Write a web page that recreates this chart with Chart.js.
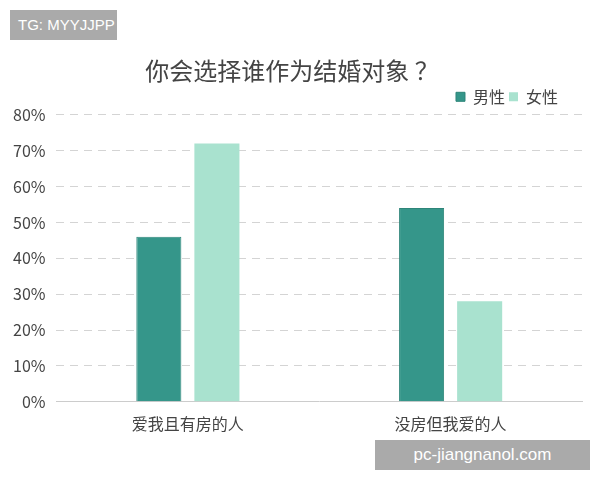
<!DOCTYPE html>
<html>
<head>
<meta charset="utf-8">
<script src="https://cdn.jsdelivr.net/npm/chart.js@4"></script>
<style>
  body { margin: 0; background: #fff; }
  #wrap { position: relative; width: 600px; height: 480px; }
  .badge { position: absolute; background: #aaaaaa; color: #fff; font-family: "Liberation Sans", "Noto Sans", sans-serif; }
  #tg { left: 10px; top: 10px; width: 107px; height: 30px; line-height: 30px; font-size: 15px; padding-left: 8px; box-sizing: border-box; }
  #site { left: 375px; top: 440px; width: 215px; height: 30px; line-height: 30px; font-size: 17px; text-align: center; }
</style>
</head>
<body>
<div id="wrap">
  <canvas id="chart"></canvas>
  <div class="badge" id="tg">TG: MYYJJPP</div>
  <div class="badge" id="site">pc-jiangnanol.com</div>
</div>
<script>
const categories = ['爱我且有房的人', '没房但我爱的人'];
const maleValues = [46, 54];
const femaleValues = [72, 28];
const seriesNames = ['男性', '女性'];
const yMax = 80;

const font = '"Noto Sans CJK SC", "Noto Sans", sans-serif';

// pull the legend in from the right edge a bit, like the original
const legendShift = {
    id: 'legendShift',
    afterLayout(chart) {
        if (chart.legend) chart.legend.right -= 20;
    }
};

new Chart(document.getElementById('chart'), {
    type: 'bar',
    data: {
        labels: categories,
        datasets: [{
            label: seriesNames[0],
            data: maleValues,
            backgroundColor: '#35968a',
            borderColor: '#2e8579',
            borderWidth: 1,
            barPercentage: 0.776,
            categoryPercentage: 0.442
        }, {
            label: seriesNames[1],
            data: femaleValues,
            backgroundColor: '#a9e2cf',
            borderWidth: 0,
            barPercentage: 0.776,
            categoryPercentage: 0.442
        }]
    },
    options: {
        responsive: true,
        maintainAspectRatio: false,
        animation: false,
        layout: { padding: { top: 56, left: 2, right: 18, bottom: 41 } },
        plugins: {
            title: {
                display: true,
                text: '你会选择谁作为结婚对象 ？',
                color: '#444',
                font: { family: font, size: 24, weight: 'normal' },
                padding: { top: 0, bottom: 0 }
            },
            legend: {
                display: true,
                align: 'end',
                labels: {
                    color: '#444',
                    font: { family: font, size: 16 },
                    boxWidth: 9,
                    boxHeight: 9,
                    padding: 4
                }
            },
            tooltip: { enabled: false }
        },
        scales: {
            x: {
                grid: { display: false },
                border: { color: '#cccccc', width: 1 },
                ticks: { color: '#444', font: { family: font, size: 16 }, padding: 5 }
            },
            y: {
                min: 0,
                max: yMax,
                border: { display: false, dash: [8, 6] },
                grid: {
                    drawTicks: false,
                    color: ctx => ctx.tick.value === 0 ? 'rgba(0,0,0,0)' : '#d4d4d4'
                },
                ticks: {
                    stepSize: 10,
                    padding: 11,
                    color: '#444',
                    font: { family: font, size: 16 },
                    callback: v => v + '%'
                }
            }
        }
    },
    plugins: [legendShift]
});
</script>
</body>
</html>
